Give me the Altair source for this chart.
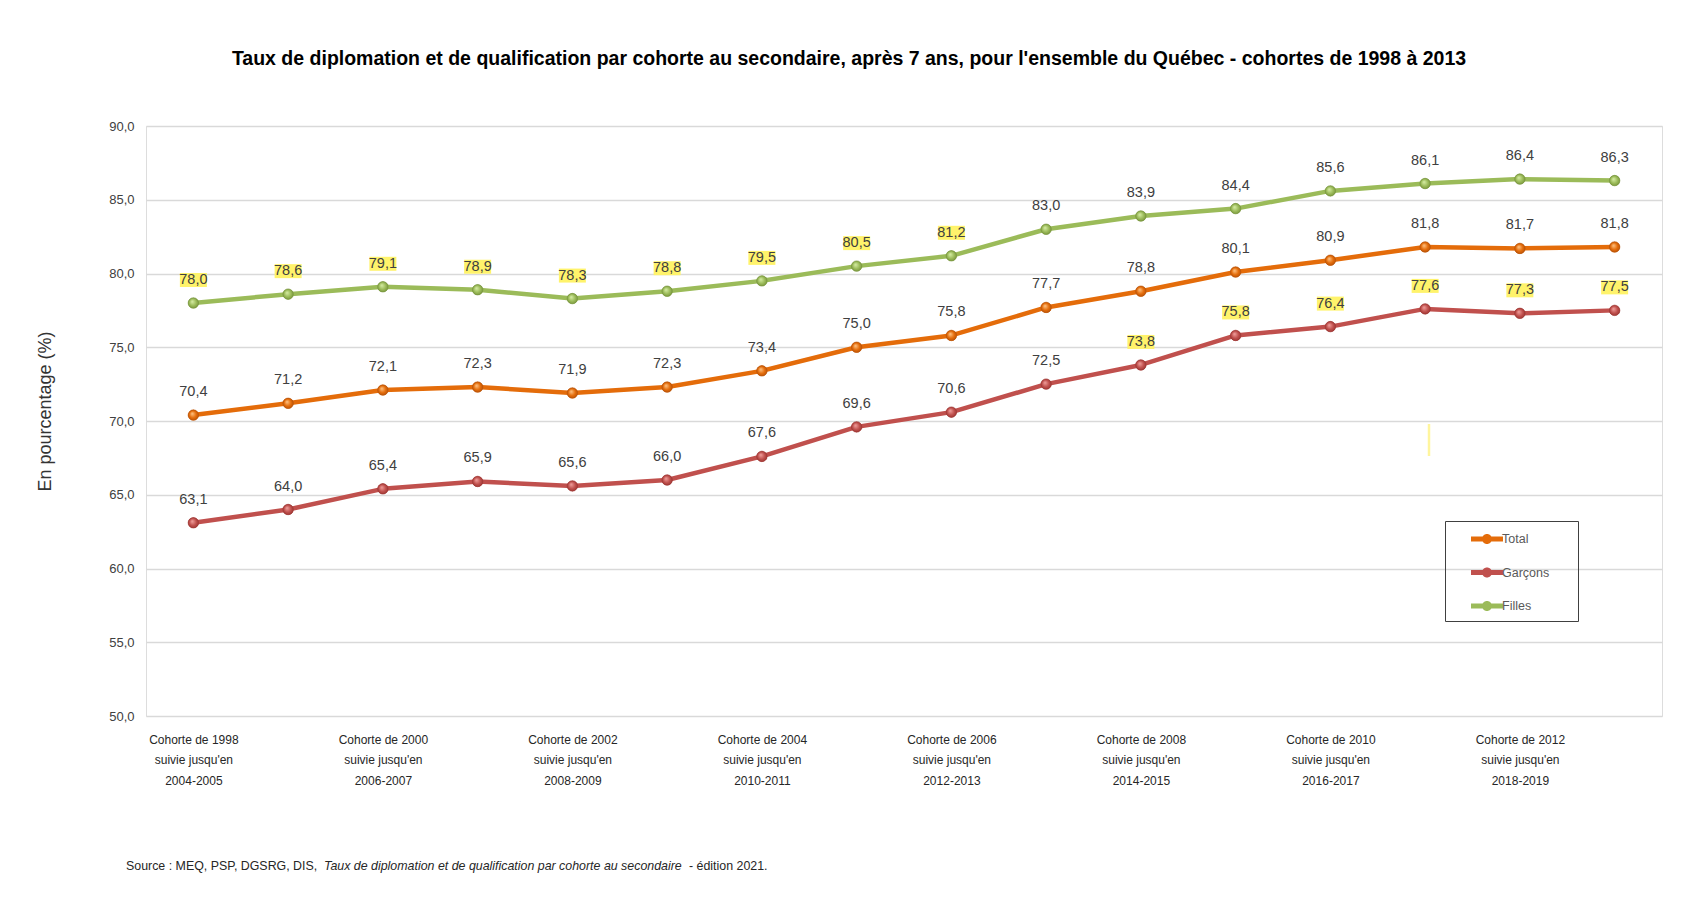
import altair as alt
import pandas as pd

# ---------------- data ----------------
cohortes = [1998, 1999, 2000, 2001, 2002, 2003, 2004, 2005,
            2006, 2007, 2008, 2009, 2010, 2011, 2012, 2013]
suivi = ["2004-2005", "2005-2006", "2006-2007", "2007-2008", "2008-2009",
         "2009-2010", "2010-2011", "2011-2012", "2012-2013", "2013-2014",
         "2014-2015", "2015-2016", "2016-2017", "2017-2018", "2018-2019",
         "2019-2020"]
series_names = ["Total", "Garçons", "Filles"]
total = [70.4, 71.2, 72.1, 72.3, 71.9, 72.3, 73.4, 75.0,
         75.8, 77.7, 78.8, 80.1, 80.9, 81.8, 81.7, 81.8]
garcons = [63.1, 64.0, 65.4, 65.9, 65.6, 66.0, 67.6, 69.6,
           70.6, 72.5, 73.8, 75.8, 76.4, 77.6, 77.3, 77.5]
filles = [78.0, 78.6, 79.1, 78.9, 78.3, 78.8, 79.5, 80.5,
          81.2, 83.0, 83.9, 84.4, 85.6, 86.1, 86.4, 86.3]
# cohorts whose data label is highlighted in yellow in the source
highlight_filles = [1998, 1999, 2000, 2001, 2002, 2003, 2004, 2005, 2006]
highlight_garcons = [2008, 2009, 2010, 2011, 2012, 2013]
y_ticks = [50, 55, 60, 65, 70, 75, 80, 85, 90]

title_text = ("Taux de diplomation et de qualification par cohorte au secondaire, "
              "après 7 ans, pour l'ensemble du Québec - cohortes de 1998 à 2013")
y_title = "En pourcentage (%)"
source_1 = "Source : MEQ, PSP, DGSRG, DIS, "
source_2 = "Taux de diplomation et de qualification par cohorte au secondaire"
source_3 = " - édition 2021."

# ---------------- build table ----------------
cat_labels = [f"Cohorte de {c}\nsuivie jusqu'en\n{s}" for c, s in zip(cohortes, suivi)]
values = {"Total": total, "Garçons": garcons, "Filles": filles}
hl = {"Total": [], "Garçons": highlight_garcons, "Filles": highlight_filles}
rows = []
for name in series_names:
    for c, lab, v in zip(cohortes, cat_labels, values[name]):
        rows.append({"cohorte": lab, "annee": c, "serie": name, "valeur": v,
                     "txt": f"{v:.1f}".replace(".", ","),
                     "hl": c in hl[name]})
df = pd.DataFrame(rows)

colors = {"Total": "#E46C0A", "Garçons": "#C0504D", "Filles": "#9BBB59"}
light = {"Total": "#FFC78A", "Garçons": "#F2A3A0", "Filles": "#D9EFA8"}
dark = {"Total": "#B5520A", "Garçons": "#9A3532", "Filles": "#76923C"}

FONT = "Liberation Sans"

W, H = 1516, 590

x_enc = alt.X(
    "cohorte:N", sort=cat_labels, title=None,
    scale=alt.Scale(type="point", padding=0.5),
    axis=alt.Axis(
        labelExpr="(toNumber(substring(datum.value, 11, 15)) % 2 == 0) ? split(datum.value, '\\n') : ''",
        labelAngle=0, labelFont=FONT, labelFontSize=12, labelColor="#262626",
        labelLineHeight=20.5, labelBaseline="top", labelPadding=18, labelLimit=0,
        ticks=False, domain=False, grid=False, labelOverlap=False,
    ),
)
y_enc = alt.Y(
    "valeur:Q", title=y_title,
    scale=alt.Scale(domain=[50, 90], nice=False, zero=False),
    axis=alt.Axis(
        values=y_ticks, labelExpr="replace(format(datum.value, '.1f'), '.', ',')",
        labelFont=FONT, labelFontSize=13, labelColor="#404040", labelPadding=12,
        ticks=False, domain=False, grid=True, gridColor="#d9d9d9", gridWidth=1.5,
        titleFont=FONT, titleFontSize=18, titleFontWeight="normal",
        titleColor="#333333", titleX=-101, titleY=285, titleAngle=270,
        titleAlign="center", titleBaseline="middle",
    ),
)
color_scale = alt.Scale(domain=series_names, range=[colors[s] for s in series_names])

legend_path = ("M-1.6,-0.25L1.6,-0.25L1.6,0.25L-1.6,0.25Z"
               "M0.5,0A0.5,0.5,0,1,1,-0.5,0A0.5,0.5,0,1,1,0.5,0Z")
legend = alt.Legend(
    title="\u00a0", titleOrient="right", titlePadding=21, titleFontSize=4,
    orient="none", legendX=1299, legendY=395,
    symbolType=legend_path, symbolSize=400, symbolOffset=24,
    symbolStrokeWidth=0, rowPadding=16.5, padding=8,
    strokeColor="#404040", labelFont=FONT, labelFontSize=12.5,
    labelColor="#595959", labelOffset=5,
)

base = alt.Chart(df)

lines = base.mark_line(strokeWidth=4.5, strokeJoin="round").encode(
    x=x_enc, y=y_enc,
    color=alt.Color("serie:N", scale=color_scale, sort=series_names, legend=None),
)

points_legend = base.mark_point(filled=True, size=110, opacity=1).encode(
    x=x_enc, y=y_enc,
    color=alt.Color("serie:N", scale=color_scale, sort=series_names, legend=legend),
)

sphere_layers = []
for name in series_names:
    grad = {
        "gradient": "radial",
        "x1": 0.38, "y1": 0.35, "r1": 0.0,
        "x2": 0.5, "y2": 0.5, "r2": 0.55,
        "stops": [
            {"offset": 0.0, "color": light[name]},
            {"offset": 0.6, "color": colors[name]},
            {"offset": 1.0, "color": dark[name]},
        ],
    }
    sphere_layers.append(
        base.transform_filter(alt.datum.serie == name)
        .mark_point(shape="circle", fill=grad, stroke=dark[name], strokeWidth=0.6,
                    size=110, opacity=1, fillOpacity=1)
        .encode(x=x_enc, y=y_enc)
    )

hl_path = "M-1.35,-0.7L1.35,-0.7L1.35,0.7L-1.35,0.7Z"
highlights = base.transform_filter(alt.datum.hl).mark_point(
    shape=hl_path, filled=True, color="#FFF36B", size=400, opacity=1, yOffset=-23,
).encode(x=x_enc, y=y_enc)

labels = base.mark_text(
    dy=-23, font=FONT, fontSize=14.5, color="#404040", baseline="middle",
).encode(x=x_enc, y=y_enc, text="txt:N")

src_df = pd.DataFrame({"a": [source_1], "b": [source_2], "c": [source_3]})
src = alt.Chart(src_df)
src1 = src.mark_text(align="left", baseline="middle", font=FONT, fontSize=12.4,
                     color="#262626").encode(x=alt.value(-20), y=alt.value(740), text="a:N")
src2 = src.mark_text(align="left", baseline="middle", font=FONT, fontSize=12.4,
                     fontStyle="italic", color="#262626").encode(
    x=alt.value(178), y=alt.value(740), text="b:N")
src3 = src.mark_text(align="left", baseline="middle", font=FONT, fontSize=12.4,
                     color="#262626").encode(x=alt.value(543), y=alt.value(740), text="c:N")

# small yellow mark present in the source picture
artifact = src.mark_rule(color="#FFF59D", strokeWidth=2.5).encode(
    x=alt.value(1283), y=alt.value(298), y2=alt.value(330))

chart = alt.layer(
    lines, points_legend, *sphere_layers, highlights, labels, src1, src2, src3, artifact
).resolve_legend(color="independent").properties(
    width=W, height=H,
    title=alt.TitleParams(
        text=title_text, font=FONT, fontSize=19.5, fontWeight="bold",
        color="#000000", anchor="middle", dx=-55, offset=51,
    ),
    autosize=alt.AutoSizeParams(type="none"),
    padding={"left": 138, "top": 118, "right": 26, "bottom": 192},
).configure_view(stroke=None).configure(background="white")

chart.save("out.html", embed_options={"renderer": "svg", "actions": False})
